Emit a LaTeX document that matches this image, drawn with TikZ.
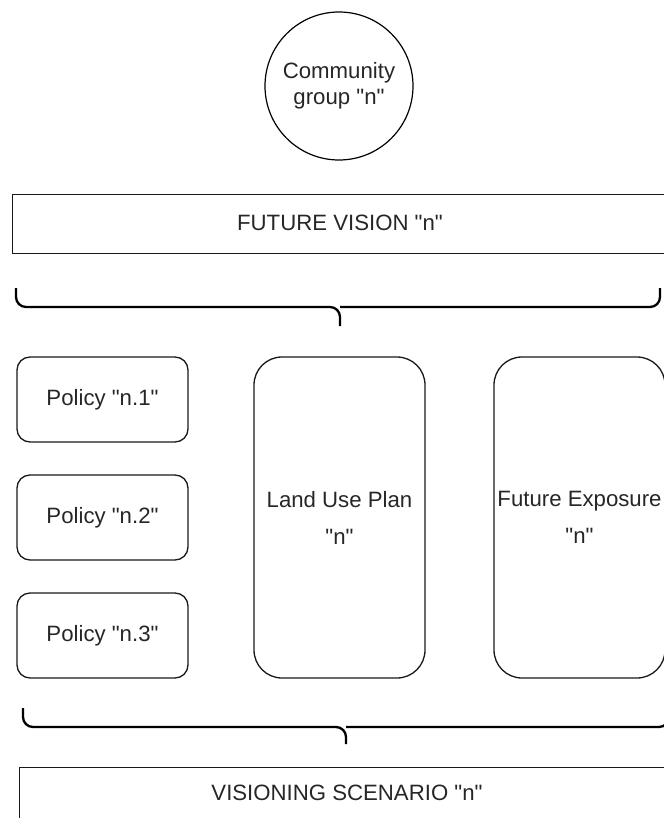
\documentclass[tikz,border=0pt]{standalone}
\usepackage{fontspec}
% TeXOff keeps the straight double quote as typed
\setmainfont{Liberation Sans}[Ligatures=TeXOff]
\begin{document}
\begin{tikzpicture}[x=1pt,y=-1pt,
  lbl/.style={text=black!85,font=\fontsize{22.2}{26.5}\selectfont,align=center},
  plainbox/.style={draw=black!90,line width=1.3pt,inner sep=0pt,lbl},
  policybox/.style={plainbox,rounded corners=13pt,minimum width=171pt,minimum height=85pt},
  tallbox/.style={plainbox,rounded corners=28pt,minimum width=171pt,minimum height=321pt,
    font=\fontsize{22.2}{37}\selectfont},
  bracepath/.style={draw=black,line width=2.3pt,rounded corners=10pt}
]
\useasboundingbox (0,0) rectangle (663,818);

% community circle
\node[draw=black,line width=1.2pt,circle,minimum size=148pt,inner sep=0pt,lbl]
  (group) at (339,86) {Community\\group "n"};

% future vision bar (runs off the right edge)
\node[plainbox,minimum width=656pt,minimum height=59pt,anchor=north west]
  (vision) at (12,194) {};
\node[lbl] (visiontxt) at (340,223) {FUTURE VISION "n"};

% upper brace
\draw[bracepath] (16,288) -- (16,307) -- (340,307) -- (340,326);
\draw[bracepath] (660,288) -- (660,307) -- (340,307);

% policy boxes
\node[policybox] (p1) at (102.5,399.5) {Policy "n.1"};
\node[policybox] (p2) at (102.5,517.5) {Policy "n.2"};
\node[policybox] (p3) at (102.5,635.5) {Policy "n.3"};

% land use plan and future exposure
\node[tallbox] (lup) at (339.5,517.5) {Land Use Plan\\"n"};
\node[tallbox] (fexp) at (579.5,517.5) {Future Exposure\\"n"};

% lower brace
\draw[bracepath] (23,708) -- (23,727) -- (346,727) -- (346,744);
\draw[bracepath] (669,708) -- (669,727) -- (346,727);

% visioning scenario bar (runs off the bottom and right edges)
\node[plainbox,minimum width=660pt,minimum height=80pt,anchor=north west]
  (scen) at (19,767) {};
\node[lbl] (scentxt) at (347,793) {VISIONING SCENARIO "n"};
\end{tikzpicture}
\end{document}
